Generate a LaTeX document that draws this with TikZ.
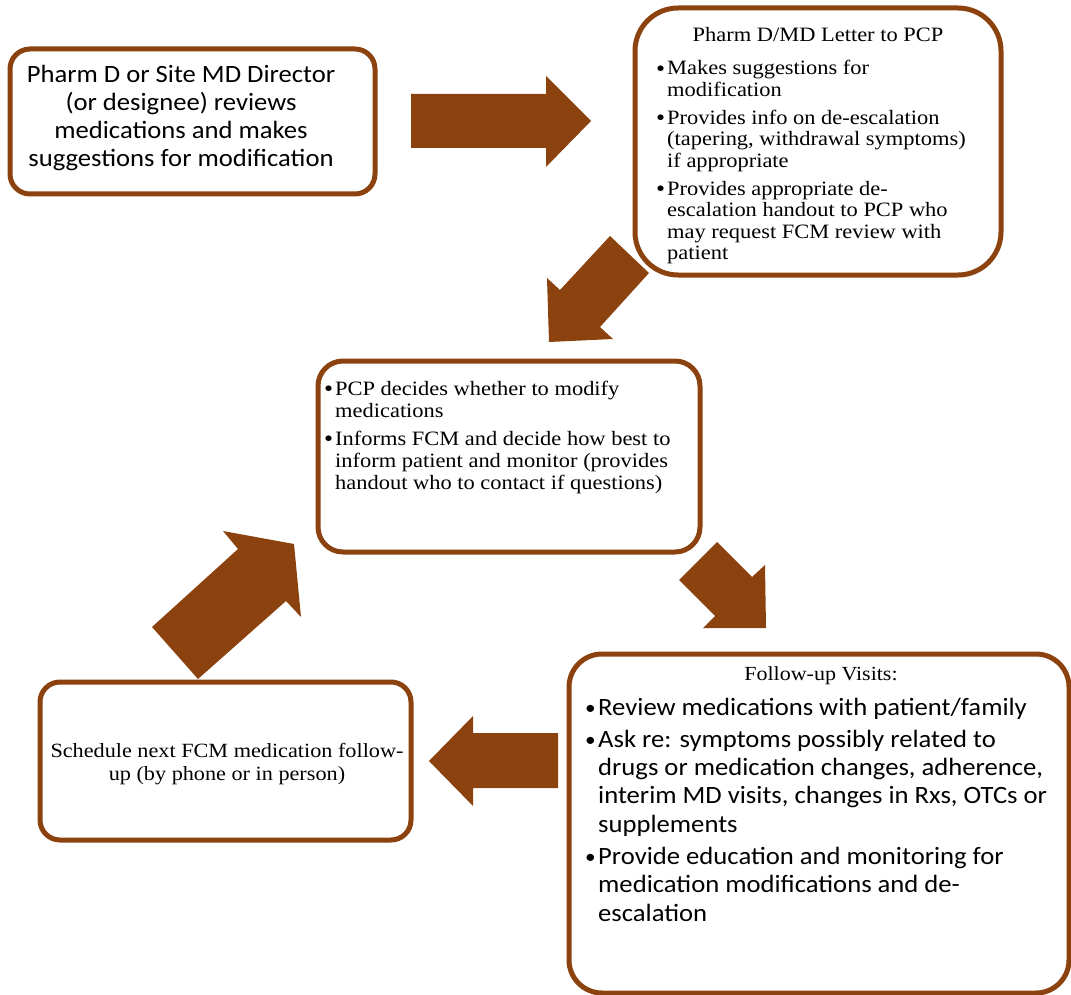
\documentclass[tikz,border=0pt]{standalone}
\usepackage{fontspec}
\newfontfamily\calfont[FakeStretch=1.07]{Carlito}
\newfontfamily\camfont[FakeStretch=1.1]{Liberation Serif}
\definecolor{brn}{RGB}{139,66,14}
\newcommand\bul{\makebox[11pt][l]{\raisebox{-1.3pt}{\scalebox{1.15}{\textbullet}}}}
\newcommand\bulc{\makebox[14pt][l]{\hspace{1pt}\raisebox{0.8pt}{\scalebox{0.8}{\textbullet}}}}
\begin{document}
\begin{tikzpicture}[x=1pt,y=-1pt,
  box/.style={draw=brn, line width=5pt, fill=white, rectangle, inner sep=0pt},
  blockarrow/.style={fill=brn, draw=none},
  txt/.style={inner sep=0pt, anchor=base west, text=black},
  ctxt/.style={inner sep=0pt, anchor=base, text=black},
  serifbig/.style={font=\camfont\fontsize{20.4}{21.5}\selectfont},
  calbig/.style={font=\calfont\fontsize{24.9}{28}\selectfont}]
\useasboundingbox (0,0) rectangle (1071,995);
% block arrows
\fill[blockarrow] (411,94) -- (546,94) -- (546,76) -- (591,121) -- (546,167) -- (546,148) -- (411,148) -- cycle;
\fill[blockarrow] (610,236) -- (649,273) -- (600,327) -- (613,339) -- (549,342) -- (547,278) -- (560,290) -- cycle;
\fill[blockarrow] (717,542) -- (752,577) -- (765,565) -- (766,628) -- (703,628) -- (715,616) -- (679,580) -- cycle;
\fill[blockarrow] (558,733) -- (473,733) -- (473,716) -- (429,761) -- (473,806) -- (473,788) -- (558,788) -- cycle;
\fill[blockarrow] (198,679) -- (152,627) -- (238,549) -- (223,531) -- (294,544) -- (301,617) -- (286,601) -- cycle;
% boxes
\node[box, minimum width=365pt, minimum height=145pt, rounded corners=20pt] (b1) at (192.5,121.5) {};
\node[box, minimum width=366pt, minimum height=267pt, rounded corners=43pt] (b2) at (818,141.5) {};
\node[box, minimum width=382pt, minimum height=191pt, rounded corners=25pt] (b3) at (509,456.5) {};
\node[box, minimum width=500pt, minimum height=339pt, rounded corners=33pt] (b4) at (819,823.5) {};
\node[box, minimum width=371pt, minimum height=158pt, rounded corners=20pt] (b5) at (225.5,761) {};
% texts
\node[ctxt, calbig] (t1) at (181,83) {\begin{tabular}[t]{@{}c@{}}Pharm D or Site MD Director\\(or designee) reviews\\medications and makes\\suggestions for modification\end{tabular}};
\node[ctxt, serifbig] (t2a) at (818,42) {Pharm D/MD Letter to PCP};
\node[txt, serifbig] (t2) at (656,75) {\begin{tabular}[t]{@{}l@{}l@{}}\bul&Makes suggestions for\\&modification\\[6.5pt]
\bul&Provides info on de-escalation\\&(tapering, withdrawal symptoms)\\&if appropriate\\[6.5pt]
\bul&Provides appropriate de-\\&escalation handout to PCP who\\&may request FCM review with\\&patient\end{tabular}};
\node[txt, font=\camfont\fontsize{20.4}{22}\selectfont] (t3) at (324,395) {\begin{tabular}[t]{@{}l@{}l@{}}\bul&PCP decides whether to modify\\&medications\\[6pt]
\bul&Informs FCM and decide how best to\\&inform patient and monitor (provides\\&handout who to contact if questions)\end{tabular}};
\node[ctxt, font=\camfont\fontsize{20}{22}\selectfont] (t4a) at (821,680) {Follow-up Visits:};
\node[txt, font=\calfont\fontsize{24.9}{28.3}\selectfont] (t4) at (584,715) {\begin{tabular}[t]{@{}l@{}l@{}}\bulc&Review medications with patient/family\\[4pt]
\bulc&Ask re: symptoms possibly related to\\&drugs or medication changes, adherence,\\&interim MD visits, changes in Rxs, OTCs or\\&supplements\\[4pt]
\bulc&Provide education and monitoring for\\&medication modifications and de-\\&escalation\end{tabular}};
\node[ctxt, font=\camfont\fontsize{20.2}{23}\selectfont] (t5) at (227,757) {\begin{tabular}[t]{@{}c@{}}Schedule next FCM medication follow-\\up (by phone or in person)\end{tabular}};
\end{tikzpicture}
\end{document}
